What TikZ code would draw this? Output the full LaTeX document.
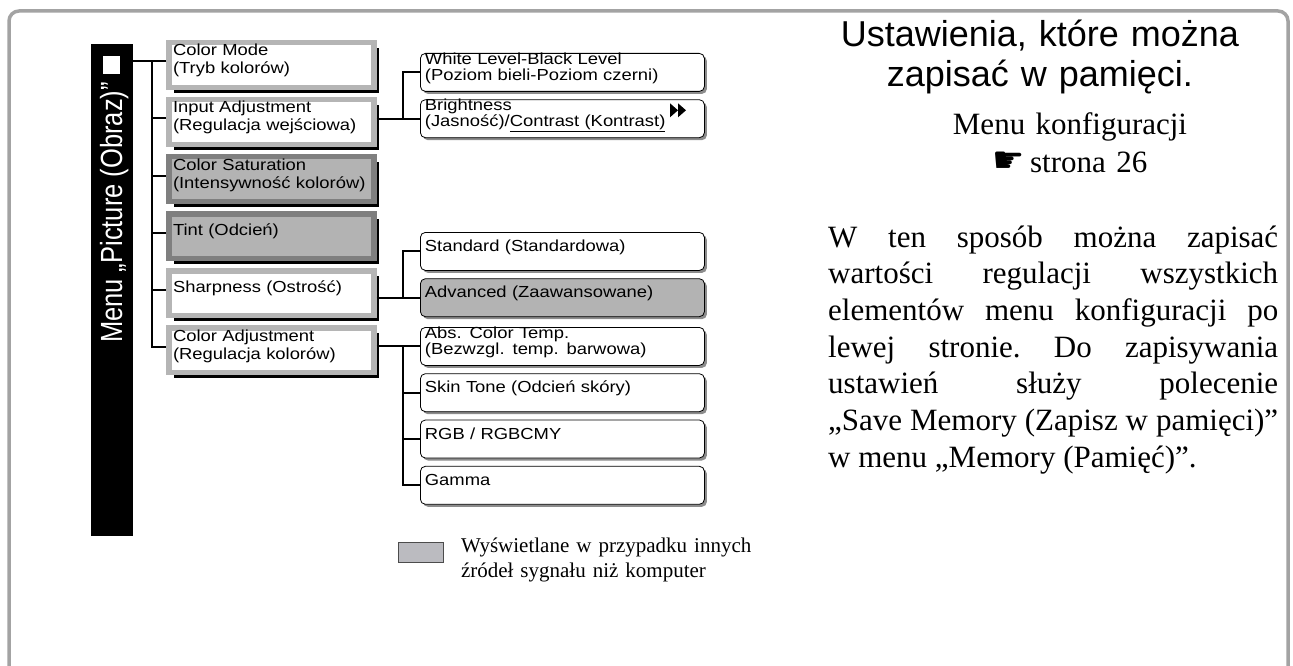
\documentclass[tikz,border=0pt]{standalone}
\usepackage{fontspec}
\setmainfont{Liberation Serif}
\newfontfamily\boxfont[FakeStretch=1.15]{Liberation Sans}
\newfontfamily\headfont{Liberation Sans}
\newfontfamily\symbfont{DejaVu Sans}
\usepackage{tikz}
\usetikzlibrary{positioning, shadows, calc}

\definecolor{framegrey}{HTML}{A3A3A3}
\definecolor{edgegrey}{HTML}{B5B5B5}
\definecolor{darkedge}{HTML}{7F7F7F}
\definecolor{boxgrey}{HTML}{B3B3B3}
\definecolor{legendgrey}{HTML}{BBBBC0}

\begin{document}
\begin{tikzpicture}[x=1pt, y=-1pt,
        item/.style={draw=edgegrey, line width=5.5pt, fill=white, anchor=north west, minimum width=205pt, minimum height=44.7pt, text width=196.5pt, inner xsep=4.25pt, inner ysep=0pt, align=left, font=\boxfont\fontsize{16}{18}\selectfont, drop shadow={shadow xshift=5.5pt, shadow yshift=-5.5pt, fill=black, opacity=1}},
        greyitem/.style={item, draw=darkedge, fill=boxgrey},
        twoline/.style={text height=13.25pt, text depth=31.45pt},
        oneline/.style={text height=21.25pt, text depth=23.45pt},
        sub/.style={draw, line width=0.8pt, rounded corners=5pt, fill=white, anchor=north west, minimum width=284pt, minimum height=38pt, text width=275pt, inner xsep=4.5pt, inner ysep=0pt, align=left, font=\boxfont\fontsize{16}{16}\selectfont, drop shadow={shadow xshift=2.5pt, shadow yshift=-2.5pt, fill=black!45, opacity=1}},
        greysub/.style={sub, fill=boxgrey},
        subtwo/.style={text height=11pt, text depth=27pt},
        subone/.style={text height=19pt, text depth=19pt},
        conn/.style={line width=2pt}
    ]
        \useasboundingbox (0,0) rectangle (1293,666);

        % frame
        \draw[framegrey, line width=3.5pt, rounded corners=10pt] (9,666) -- (9,11) -- (1288,11) -- (1288,666);

        % menu bar
        \node[fill=black, anchor=north west, minimum width=42pt, minimum height=492pt, inner sep=0pt] (menubar) at (91,44) {};
        \node[fill=white, anchor=north west, minimum width=17pt, minimum height=18pt, inner sep=0pt] (marker) at (103,56) {};
        \node[rotate=90, anchor=base, text=white, inner sep=0pt, font=\headfont\fontsize{25.5}{25.5}\selectfont] (barlabel) at (122,212.5) {\scalebox{1}[1.2]{Menu „Picture (Obraz)”}};

        % first level
        \node[item, twoline] (cmode) at (166,40) {Color Mode\\(Tryb kolorów)};
        \node[item, twoline, below=6.8pt of cmode] (inadj) {Input Adjustment\\(Regulacja wejściowa)};
        \node[greyitem, twoline, below=6.8pt of inadj] (csat) {Color Saturation\\(Intensywność kolorów)};
        \node[greyitem, oneline, below=6.8pt of csat] (tint) {Tint (Odcień)};
        \node[item, oneline, below=6.8pt of tint] (sharp) {Sharpness (Ostrość)};
        \node[item, twoline, below=6.8pt of sharp] (cadj) {Color Adjustment\\(Regulacja kolorów)};

        % second level
        \node[sub, subtwo] (white) at (420,53) {White Level-Black Level\\(Poziom bieli-Poziom czerni)};
        \node[sub, subtwo, below=7.5pt of white] (bright) {Brightness\\(Jasność)/\underline{Contrast (Kontrast)}};
        \node[sub, subone] (std) at (420,232) {Standard (Standardowa)};
        \node[greysub, subone, below=7.5pt of std] (adv) {Advanced (Zaawansowane)};
        \node[sub, subtwo] (abs) at (420,327) {Abs. Color Temp.\\(Bezwzgl. temp. barwowa)};
        \node[sub, subone, below=7.5pt of abs] (skin) {Skin Tone (Odcień skóry)};
        \node[sub, subone, below=7.5pt of skin] (rgb) {RGB / RGBCMY};
        \node[sub, subone, below=7.5pt of rgb] (gamma) {Gamma};

        \fill ([xshift=250pt, yshift=-4pt]bright.north west) -- ++(8,7) -- ++(-8,7) -- cycle;
        \fill ([xshift=258pt, yshift=-4pt]bright.north west) -- ++(8,7) -- ++(-8,7) -- cycle;

        % connectors
        \foreach \n in {cmode,inadj,csat,tint,sharp,cadj}{
            \coordinate (\n-in) at ([yshift=3.6pt]\n.west);
            \draw[conn] (\n-in) -- ++(-14,0);
        }
        \draw[conn] (menubar.east |- cmode-in) -- (cmode-in);
        \draw[conn] (cmode-in) ++(-14,0) |- (cadj-in);

        \draw[conn] (inadj.east |- bright.west) -- (bright.west);
        \draw[conn] (bright.west) ++(-17,0) |- (white.west);
        \draw[conn] (sharp.east |- adv.west) -- (adv.west);
        \draw[conn] (adv.west) ++(-17,0) |- (std.west);
        \draw[conn] (cadj.east |- abs.west) -- (abs.west);
        \draw[conn] (abs.west) ++(-17,0) |- (gamma.west);
        \foreach \n in {skin,rgb}
            \draw[conn] (\n.west) -- ++(-17,0);

        % legend
        \node[draw=black!70, fill=legendgrey, line width=0.8pt, anchor=north west, minimum width=45pt, minimum height=20pt, inner sep=0pt] (legbox) at (398,542) {};
        \node[right=17pt of legbox.east, anchor=base west, text width=330pt, align=left, inner sep=0pt, font=\fontsize{21}{25}\selectfont] (legtext) {Wyświetlane w przypadku innych\\źródeł sygnału niż komputer};

        % right column
        \node[anchor=base, text width=460pt, align=center, inner sep=0pt, font=\headfont\fontsize{36}{40}\selectfont] (heading) at (1040,47) {Ustawienia, które można\\zapisać w pamięci.};
        \node[anchor=base, text width=300pt, align=center, inner sep=0pt, font=\fontsize{31}{38}\selectfont] (cfgref) at (1070,135) {Menu konfiguracji\\{\symbfont\fontsize{36}{38}\selectfont ☛}\,strona 26};
        \node[anchor=base west, text width=450pt, align=justify, inner sep=0pt, font=\fontsize{31}{36.7}\selectfont] (note) at (828,247) {\frenchspacing\tolerance=9999 \hyphenpenalty=10000 W ten sposób można zapisać\linebreak wartości regulacji wszystkich\linebreak elementów menu konfiguracji po\linebreak lewej stronie. Do zapisywania\linebreak ustawień służy polecenie\linebreak „Save Memory (Zapisz w pamięci)”\linebreak w menu „Memory (Pamięć)”.};

    \end{tikzpicture}
\end{document}
